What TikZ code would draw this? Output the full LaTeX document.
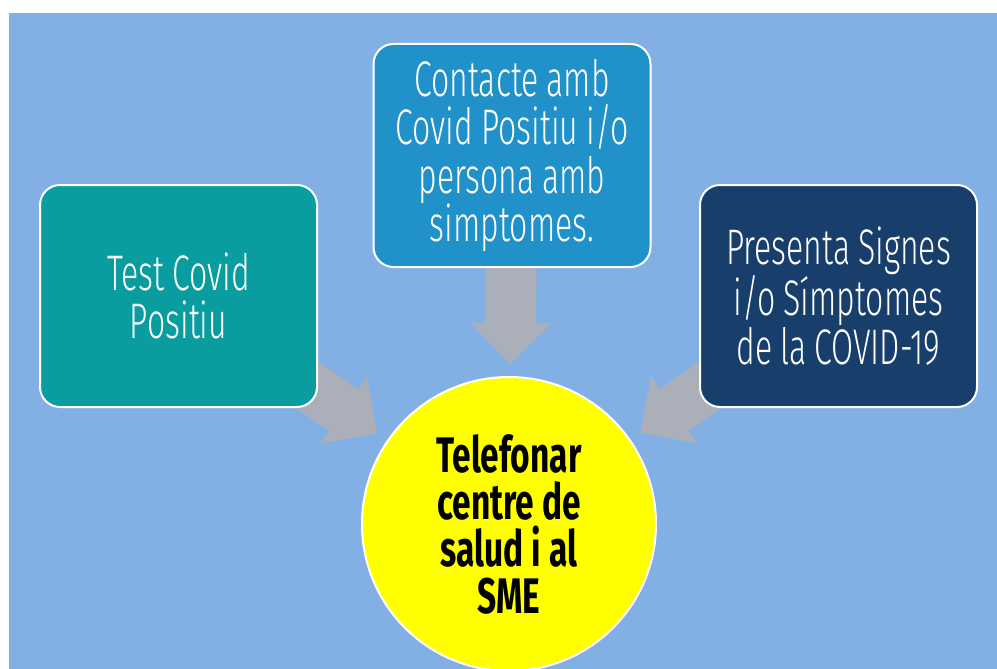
\documentclass[tikz,border=0pt]{standalone}
\usepackage{fontspec}
\usepackage{xcolor}
\usetikzlibrary{calc, backgrounds}
\newfontfamily\agency[FakeStretch=0.64]{Fira Sans Light}
\newfontfamily\agencyb[FakeStretch=0.67]{Fira Sans}
\definecolor{bgblue}{HTML}{82B0E4}
\definecolor{tealbox}{HTML}{0A9DA0}
\definecolor{bluebox}{HTML}{2191C9}
\definecolor{navybox}{HTML}{183F6C}
\definecolor{arrowgray}{HTML}{AAAFB9}
\definecolor{callyellow}{HTML}{FFFF00}

\begin{document}
\begin{tikzpicture}[x=1pt, y=-1pt,
  card/.style={draw=white, line width=2pt, rounded corners=20pt,
    minimum width=277pt, minimum height=222pt, inner sep=0pt,
    text width=262pt, align=center, text=white,
    font=\agency\fontsize{50}{48.5}\selectfont,
    execute at begin node={\spaceskip=8pt\relax}},
  callnode/.style={circle, draw=white, line width=2pt, fill=callyellow,
    minimum size=294pt, inner sep=0pt, text width=200pt, align=center,
    font=\agencyb\bfseries\fontsize{50}{47}\selectfont,
    execute at begin node={\spaceskip=8pt\relax}}]
\useasboundingbox (0,0) rectangle (997,669);

% Cards
\node[card, fill=tealbox] (lbox) at (178.5,296) {Test Covid\\Positiu};
\node[card, fill=bluebox, minimum height=223pt] (tbox) at (512,155.5)
  {Contacte amb\\Covid Positiu i/o\\persona amb\\simptomes.};
\node[card, fill=navybox] (rbox) at (838.5,296)
  {Presenta Signes\\i/o Símptomes\\de la COVID-19};

% Center
\node[callnode] (circ) at (509,524) {Telefonar\\centre de\\salud i al\\SME};

% Background and arrows
\begin{scope}[on background layer]
\fill[white] (0,0) rectangle (997,669);
\fill[bgblue] (9,13) rectangle (997,669);
\foreach \src in {lbox,tbox,rbox}{
  \coordinate (tip) at ($(circ.center)!160pt!(\src.center)$);
  \coordinate (base) at ($(circ.center)!201pt!(\src.center)$);
  \fill[arrowgray] (tip) -- ($(base)!41pt!90:(tip)$)
    -- ($(base)!25.5pt!90:(tip)$) -- ($(\src.center)!25.5pt!90:(base)$)
    -- ($(\src.center)!25.5pt!-90:(base)$) -- ($(base)!25.5pt!-90:(tip)$)
    -- ($(base)!41pt!-90:(tip)$) -- cycle;
}
\end{scope}
\end{tikzpicture}
\end{document}
